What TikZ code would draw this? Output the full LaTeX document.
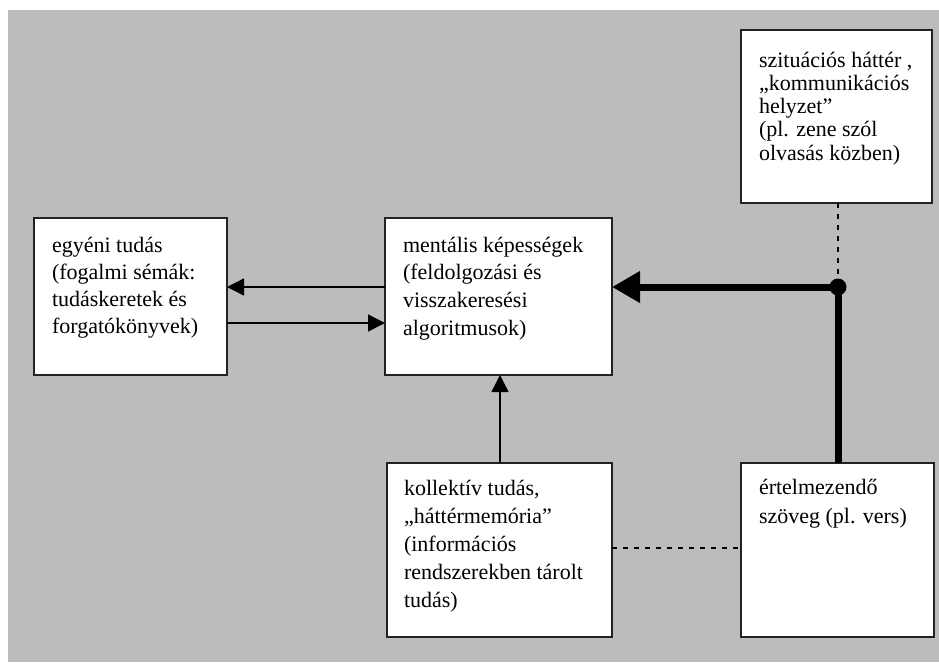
\documentclass[tikz,border=0pt]{standalone}
\usepackage{fontspec}
\setmainfont{Liberation Serif}
\usetikzlibrary{arrows.meta}
\definecolor{bggray}{HTML}{BCBDBA}
\definecolor{edgecol}{HTML}{222222}

\begin{document}
\begin{tikzpicture}[x=1pt,y=-1pt,
  box/.style={draw=edgecol, line width=1.4pt, fill=white, inner sep=0pt,
              outer sep=0pt, anchor=north west},
  label/.style={anchor=base west, inner sep=0pt, outer sep=0pt,
                font=\fontsize{22}{#1}\selectfont},
  thinarrow/.style={line width=1.4pt, -{Triangle[length=17pt,width=17pt]}},
  boldarrow/.style={line width=7pt, -{Triangle[length=28pt,width=30pt]}},
  boldline/.style={line width=7pt},
  dotted link/.style={line width=1.3pt, dash pattern=on 5pt off 6pt}
]
% canvas
\useasboundingbox (0,0) rectangle (939,662);
\fill[white] (0,0) rectangle (939,662);
\fill[bggray] (8,10) rectangle (939,662);

% boxes
\node[box, minimum width=191pt, minimum height=173pt] (ctx) at (741,30) {};
\node[box, minimum width=193pt, minimum height=157pt] (egy) at (34,218) {};
\node[box, minimum width=227pt, minimum height=157pt] (men) at (385,218) {};
\node[box, minimum width=225pt, minimum height=174pt] (kol) at (387,463) {};
\node[box, minimum width=193pt, minimum height=174pt] (ert) at (741,463) {};

% box texts
\node[label=23.3pt] (ctxtext) at (759,67) {\parbox[t]{170pt}{szituációs háttér ,\\„kommunikációs\\helyzet”\\(pl. zene szól\\olvasás közben)}};
\node[label=27pt] (egytext) at (52,252) {\parbox[t]{170pt}{egyéni tudás\\(fogalmi sémák:\\tudáskeretek és\\forgatókönyvek)}};
\node[label=27.7pt] (mentext) at (403,252) {\parbox[t]{205pt}{mentális képességek\\(feldolgozási és\\visszakeresési\\algoritmusok)}};
\node[label=28pt] (koltext) at (404,495) {\parbox[t]{205pt}{kollektív tudás,\\„háttérmemória”\\(információs\\rendszerekben tárolt\\tudás)}};
\node[label=29pt] (erttext) at (759,494) {\parbox[t]{170pt}{értelmezendő\\szöveg (pl. vers)}};

% reference points for the connectors
\coordinate (j) at (838,287);
\coordinate (upper) at (0,287);
\coordinate (lower) at (0,323);
\coordinate (vert) at (500,0);
\coordinate (dash) at (0,548);

% connectors
\draw[thinarrow] (men.west |- upper) -- (egy.east |- upper);
\draw[thinarrow] (egy.east |- lower) -- (men.west |- lower);
\draw[thinarrow] (kol.north -| vert) -- (men.south -| vert);
\draw[dotted link] (kol.east |- dash) -- (ert.west |- dash);
\draw[dotted link] (ctx.south -| j) -- (j);
\draw[boldline] (ert.north -| j) -- (j);
\draw[boldarrow] (j) -- (men.east |- j);
\fill (j) circle (8.5);
\end{tikzpicture}
\end{document}
